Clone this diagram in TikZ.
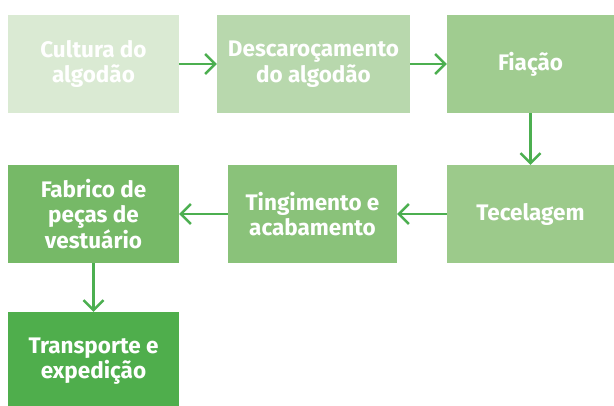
\documentclass[tikz,border=0pt]{standalone}
\usepackage{fontspec}
\setmainfont{Fira Sans}
\usetikzlibrary{arrows.meta}
\definecolor{c1}{HTML}{DAEAD3}
\definecolor{c2}{HTML}{B8D8AD}
\definecolor{c3}{HTML}{A0CC90}
\definecolor{c6}{HTML}{9CCA8B}
\definecolor{c5}{HTML}{8AC27A}
\definecolor{c4}{HTML}{76B967}
\definecolor{c7}{HTML}{4FAE4C}
\definecolor{arrc}{HTML}{4CAF50}
\begin{document}
\begin{tikzpicture}[x=1pt,y=1pt,
  box/.style={rectangle, draw=none, inner sep=0pt, align=center, text=white,
    font=\fontsize{22.5}{25.5}\selectfont\bfseries},
  arr/.style={draw=arrc, line width=2.6pt, -{Straight Barb[length=10pt,width=20pt,line width=2.4pt]}}]
\useasboundingbox (0,0) rectangle (614,-406);
\fill[white] (0,0) rectangle (614,-406);
\node[box, fill=c1, minimum width=171pt, minimum height=98pt] (a) at (93.5,-64) {Cultura do\\algodão};
\node[box, fill=c2, minimum width=193pt, minimum height=98pt] (b) at (313.5,-64) {Descaroçamento\\do algodão};
\node[box, fill=c3, minimum width=167pt, minimum height=98pt] (c) at (530.5,-64) {Fiação};
\node[box, fill=c6, minimum width=167pt, minimum height=98pt] (f) at (530.5,-214) {Tecelagem};
\node[box, fill=c5, minimum width=169pt, minimum height=98pt] (e) at (312.5,-214) {Tingimento e\\acabamento};
\node[box, fill=c4, minimum width=171pt, minimum height=98pt] (d) at (93.5,-214) {Fabrico de\\peças de\\vestuário};
\node[box, fill=c7, minimum width=171pt, minimum height=98pt] (g) at (93.5,-361) {Transporte e\\expedição};
\draw[arr] (a.east) -- (b.west);
\draw[arr] (b.east) -- (c.west);
\draw[arr] (c.south) -- (f.north);
\draw[arr] (f.west) -- (e.east);
\draw[arr] (e.west) -- (d.east);
\draw[arr] (d.south) -- (g.north);
\end{tikzpicture}
\end{document}
